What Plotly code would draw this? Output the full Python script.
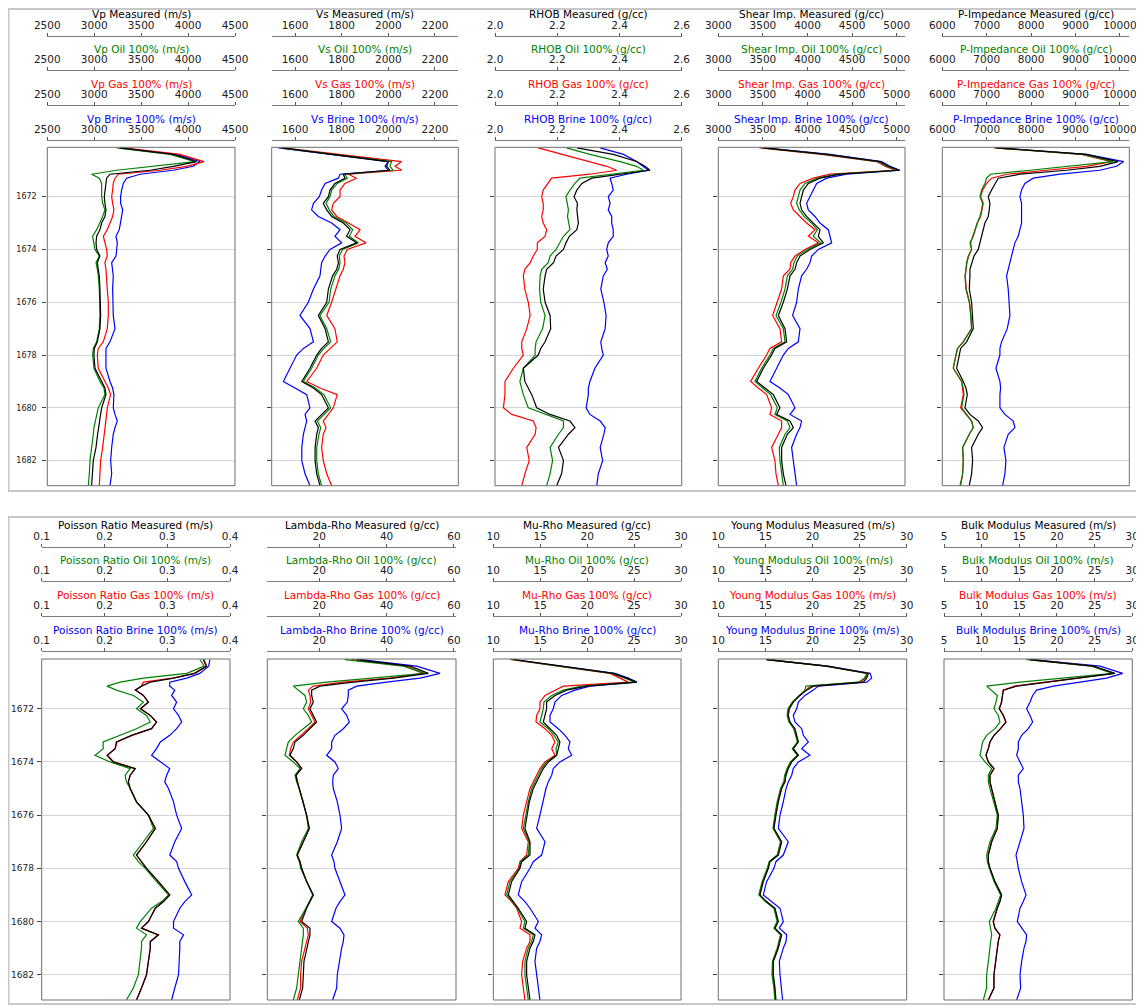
import plotly.graph_objects as go

# the page body has an 8 px margin, so the figure is drawn 8 px in from the window edge
PAGE_OFFSET = 8
W, H = 1144 - PAGE_OFFSET, 1005 - PAGE_OFFSET

# ---------------- data ----------------
DEPTH = [1670.15, 1670.4, 1670.67, 1670.85, 1671.0, 1671.15, 1671.3, 1671.5, 1671.75, 1672.0,
         1672.25, 1672.5, 1672.75, 1673.0, 1673.25, 1673.5, 1673.75, 1674.0, 1674.25, 1674.5,
         1674.75, 1675.0, 1675.5, 1676.0, 1676.5, 1677.0, 1677.5, 1677.75, 1678.0, 1678.5,
         1679.0, 1679.25, 1679.5, 1680.0, 1680.25, 1680.5, 1680.75, 1681.0, 1681.5, 1682.0,
         1682.5, 1682.95]
DEPTH_RANGE = [1682.95, 1670.13]
DEPTH_TICKS = [1672, 1674, 1676, 1678, 1680, 1682]

VP_MEASURED = [3274, 3843, 4091, 3843, 3594, 3168, 3132, 3125, 3114, 3107, 3114, 3125, 3114, 3079, 3061,
               3026, 3019, 3026, 3061, 3033, 3043, 3054, 3061, 3068, 3068, 3061, 3033, 3001, 2997, 3008,
               3079, 3114, 3125, 3079, 3068, 3054, 3047, 3036, 3019, 2990, 2983, 2972]
VP_OIL = [3239, 3807, 4074, 3594, 3239, 2972, 3054, 3079, 3079, 3079, 3090, 3114, 3090, 3061, 3026,
          2983, 2997, 3008, 3054, 3019, 3033, 3043, 3054, 3061, 3061, 3054, 3026, 2990, 2983, 2997,
          3061, 3104, 3114, 3043, 3026, 3008, 2997, 2990, 2972, 2955, 2948, 2937]
VP_GAS = [3310, 3914, 4169, 3985, 3701, 3257, 3221, 3203, 3196, 3186, 3196, 3210, 3196, 3168, 3139,
          3097, 3114, 3132, 3139, 3114, 3125, 3132, 3139, 3150, 3150, 3139, 3097, 3043, 3033, 3043,
          3114, 3150, 3175, 3139, 3132, 3125, 3118, 3104, 3090, 3068, 3061, 3054]
VP_BRINE = [3274, 3878, 4127, 4056, 3843, 3487, 3345, 3310, 3292, 3281, 3281, 3303, 3292, 3281, 3267,
            3232, 3246, 3239, 3232, 3186, 3196, 3203, 3196, 3203, 3203, 3221, 3168, 3125, 3125, 3125,
            3168, 3196, 3210, 3203, 3221, 3246, 3221, 3203, 3186, 3175, 3186, 3168]

VS_MEASURED = [1543, 1764, 2000, 1993, 2007, 1807, 1814, 1771, 1750, 1743, 1721, 1736, 1757, 1807, 1836,
               1821, 1864, 1793, 1781, 1786, 1779, 1761, 1743, 1736, 1700, 1729, 1743, 1714, 1693, 1664,
               1629, 1679, 1714, 1743, 1714, 1686, 1700, 1693, 1686, 1686, 1693, 1707]
VS_OIL = [1539, 1757, 2014, 2007, 2021, 1814, 1824, 1781, 1757, 1750, 1733, 1747, 1767, 1819, 1847,
          1833, 1871, 1804, 1790, 1793, 1787, 1771, 1753, 1746, 1707, 1736, 1753, 1724, 1700, 1671,
          1636, 1686, 1724, 1753, 1724, 1696, 1710, 1703, 1693, 1693, 1700, 1714]
VS_GAS = [1550, 1786, 2057, 2029, 2057, 1829, 1864, 1814, 1793, 1793, 1764, 1757, 1779, 1829, 1879,
          1857, 1904, 1824, 1810, 1814, 1807, 1793, 1776, 1757, 1736, 1771, 1781, 1750, 1721, 1693,
          1650, 1707, 1781, 1764, 1743, 1721, 1733, 1721, 1714, 1721, 1736, 1757]
VS_BRINE = [1529, 1757, 2000, 1986, 2000, 1793, 1786, 1729, 1714, 1704, 1679, 1671, 1700, 1757, 1793,
            1771, 1800, 1750, 1729, 1714, 1710, 1707, 1679, 1657, 1621, 1664, 1679, 1636, 1607, 1579,
            1550, 1600, 1650, 1664, 1643, 1650, 1643, 1636, 1629, 1629, 1643, 1664]

RHOB_MEASURED = [2.263, 2.380, 2.455, 2.482, 2.498, 2.402, 2.311, 2.279, 2.263, 2.254, 2.265, 2.263, 2.265, 2.268,
                 2.263, 2.239, 2.228, 2.220, 2.196, 2.188, 2.166, 2.161, 2.155, 2.161, 2.177, 2.179, 2.161, 2.147,
                 2.139, 2.091, 2.096, 2.107, 2.118, 2.134, 2.177, 2.241, 2.257, 2.236, 2.204, 2.220, 2.214, 2.198]
RHOB_OIL = [2.230, 2.305, 2.402, 2.455, 2.477, 2.380, 2.273, 2.257, 2.241, 2.228, 2.233, 2.236, 2.233, 2.236,
            2.241, 2.220, 2.209, 2.196, 2.177, 2.171, 2.150, 2.145, 2.143, 2.147, 2.161, 2.153, 2.132, 2.129,
            2.129, 2.091, 2.080, 2.086, 2.091, 2.107, 2.166, 2.220, 2.220, 2.204, 2.177, 2.185, 2.177, 2.166]
RHOB_GAS = [2.139, 2.220, 2.305, 2.359, 2.391, 2.305, 2.182, 2.171, 2.155, 2.150, 2.155, 2.155, 2.150, 2.155,
            2.166, 2.161, 2.136, 2.136, 2.123, 2.113, 2.096, 2.091, 2.096, 2.107, 2.113, 2.102, 2.086, 2.086,
            2.091, 2.059, 2.032, 2.032, 2.032, 2.027, 2.054, 2.123, 2.132, 2.129, 2.102, 2.110, 2.096, 2.086]
RHOB_BRINE = [2.338, 2.413, 2.455, 2.477, 2.493, 2.423, 2.370, 2.375, 2.380, 2.364, 2.370, 2.364, 2.375, 2.375,
              2.380, 2.380, 2.364, 2.359, 2.364, 2.354, 2.361, 2.348, 2.340, 2.350, 2.357, 2.354, 2.340, 2.343,
              2.348, 2.321, 2.305, 2.300, 2.300, 2.293, 2.305, 2.338, 2.354, 2.350, 2.338, 2.346, 2.332, 2.327]

SIMP_MEASURED = [3505, 4215, 4813, 4906, 5029, 4364, 4140, 4009, 3953, 3934, 3916, 3934, 3990, 4065, 4140,
                 4121, 4177, 4028, 3916, 3878, 3860, 3804, 3774, 3729, 3673, 3748, 3766, 3635, 3598, 3505,
                 3430, 3523, 3617, 3691, 3654, 3804, 3841, 3774, 3710, 3710, 3729, 3759]
SIMP_OIL = [3486, 4196, 4794, 4887, 5007, 4327, 4110, 3972, 3916, 3897, 3878, 3908, 3961, 4047, 4110,
            4065, 4147, 3998, 3886, 3848, 3833, 3774, 3748, 3703, 3647, 3729, 3748, 3617, 3579, 3486,
            3411, 3497, 3587, 3662, 3635, 3774, 3804, 3748, 3684, 3691, 3710, 3729]
SIMP_GAS = [3460, 4159, 4775, 4869, 4981, 4252, 4065, 3916, 3860, 3841, 3811, 3841, 3916, 3990, 4084,
            4009, 4121, 3972, 3860, 3811, 3804, 3729, 3710, 3662, 3609, 3691, 3710, 3579, 3542, 3448,
            3363, 3448, 3542, 3598, 3579, 3710, 3710, 3673, 3598, 3635, 3647, 3673]
SIMP_BRINE = [3523, 4252, 4831, 4925, 5037, 4439, 4215, 4103, 4065, 4028, 3990, 4009, 4084, 4140, 4233,
              4252, 4271, 4121, 4047, 4028, 3990, 3934, 3897, 3878, 3833, 3916, 3897, 3785, 3729, 3654,
              3579, 3691, 3785, 3860, 3804, 3934, 3916, 3878, 3822, 3841, 3860, 3878]

PIMP_MEASURED = [7223, 9248, 9960, 9548, 8798, 7748, 7260, 7185, 7110, 7035, 7073, 7058, 7035, 6960, 6923,
                 6885, 6863, 6810, 6713, 6660, 6623, 6623, 6608, 6660, 6683, 6698, 6548, 6413, 6383, 6323,
                 6473, 6533, 6563, 6510, 6623, 6810, 6908, 6810, 6660, 6683, 6660, 6608]
PIMP_OIL = [7185, 9173, 9848, 8873, 7973, 7088, 6998, 6960, 6885, 6848, 6908, 6885, 6848, 6788, 6735,
            6698, 6623, 6660, 6585, 6548, 6533, 6510, 6533, 6608, 6638, 6660, 6473, 6338, 6308, 6248,
            6435, 6473, 6488, 6435, 6548, 6660, 6698, 6608, 6458, 6473, 6458, 6398]
PIMP_GAS = [7163, 9135, 9810, 9248, 8348, 7448, 7110, 6998, 6908, 6863, 6923, 6893, 6863, 6788, 6735,
            6698, 6638, 6660, 6593, 6555, 6533, 6518, 6540, 6615, 6645, 6660, 6473, 6345, 6308, 6248,
            6435, 6458, 6473, 6413, 6533, 6660, 6698, 6608, 6458, 6473, 6458, 6413]
PIMP_BRINE = [7260, 9248, 10088, 9923, 9548, 8648, 8048, 7860, 7785, 7748, 7785, 7785, 7770, 7785, 7748,
              7710, 7635, 7598, 7560, 7523, 7485, 7448, 7485, 7508, 7523, 7463, 7335, 7298, 7298, 7208,
              7298, 7313, 7298, 7298, 7410, 7598, 7635, 7485, 7388, 7433, 7410, 7358]

PR_MEASURED = [0.358, 0.363, 0.344, 0.310, 0.273, 0.259, 0.249, 0.262, 0.270, 0.257, 0.273, 0.283, 0.275, 0.243,
               0.219, 0.217, 0.204, 0.214, 0.249, 0.241, 0.238, 0.241, 0.251, 0.270, 0.281, 0.267, 0.251, 0.259,
               0.267, 0.286, 0.304, 0.294, 0.281, 0.270, 0.259, 0.286, 0.273, 0.273, 0.270, 0.267, 0.259, 0.251]
PR_OIL = [0.352, 0.359, 0.331, 0.262, 0.225, 0.204, 0.219, 0.246, 0.262, 0.251, 0.267, 0.273, 0.251, 0.225,
          0.198, 0.198, 0.185, 0.209, 0.241, 0.233, 0.235, 0.241, 0.251, 0.270, 0.278, 0.262, 0.246, 0.254,
          0.265, 0.283, 0.302, 0.291, 0.275, 0.257, 0.251, 0.267, 0.259, 0.259, 0.257, 0.254, 0.246, 0.235]
PR_GAS = [0.357, 0.362, 0.343, 0.309, 0.262, 0.259, 0.250, 0.262, 0.270, 0.258, 0.273, 0.283, 0.275, 0.244,
          0.220, 0.217, 0.205, 0.215, 0.249, 0.241, 0.238, 0.241, 0.251, 0.270, 0.281, 0.267, 0.251, 0.259,
          0.267, 0.286, 0.304, 0.294, 0.281, 0.270, 0.259, 0.286, 0.273, 0.273, 0.270, 0.267, 0.259, 0.251]
PR_BRINE = [0.368, 0.366, 0.352, 0.331, 0.304, 0.304, 0.312, 0.307, 0.315, 0.310, 0.318, 0.323, 0.315, 0.304,
            0.289, 0.283, 0.275, 0.289, 0.304, 0.299, 0.296, 0.302, 0.310, 0.315, 0.323, 0.312, 0.304, 0.315,
            0.318, 0.328, 0.339, 0.328, 0.320, 0.310, 0.310, 0.326, 0.320, 0.320, 0.319, 0.318, 0.312, 0.307]

LR_MEASURED = [31.12, 46.95, 52.39, 41.99, 30.13, 20.23, 17.76, 17.76, 18.25, 17.26, 18.25, 19.24, 17.26, 15.29,
               12.81, 12.32, 11.33, 13.31, 14.79, 13.11, 13.50, 14.10, 15.29, 16.27, 17.07, 15.29, 13.50, 14.30,
               14.79, 16.27, 18.25, 17.26, 16.27, 14.79, 17.26, 17.26, 16.77, 16.27, 15.48, 15.29, 15.09, 14.10]
LR_OIL = [27.65, 44.96, 51.40, 35.07, 22.21, 12.32, 13.80, 15.78, 16.27, 15.29, 16.77, 17.76, 15.29, 12.81,
          10.83, 10.34, 9.84, 12.32, 14.30, 12.81, 13.31, 14.10, 15.09, 16.27, 16.77, 14.79, 13.31, 14.10,
          14.49, 16.27, 18.06, 17.07, 16.08, 13.80, 15.29, 15.29, 15.09, 14.79, 14.30, 13.80, 13.31, 12.32]
LR_GAS = [29.63, 45.95, 50.71, 41.01, 27.16, 18.25, 16.77, 17.26, 17.46, 16.77, 17.76, 18.75, 16.77, 14.49,
          12.32, 11.53, 11.13, 13.31, 14.79, 13.11, 13.50, 14.10, 15.29, 16.27, 17.07, 15.29, 13.50, 14.30,
          14.79, 16.27, 18.25, 17.26, 16.08, 14.30, 16.47, 16.77, 16.27, 15.78, 14.79, 14.49, 14.49, 13.50]
LR_BRINE = [32.11, 48.93, 55.85, 49.91, 40.02, 31.12, 28.64, 28.64, 28.35, 26.66, 28.15, 28.94, 27.16, 24.68,
            23.70, 23.70, 22.21, 24.68, 25.67, 24.19, 23.99, 24.19, 25.38, 26.17, 26.66, 25.38, 23.70, 24.39,
            24.68, 26.17, 27.65, 26.17, 24.98, 23.70, 26.17, 27.36, 27.16, 26.66, 25.97, 25.38, 25.18, 23.99]

MR_MEASURED = [12.13, 17.46, 22.79, 24.21, 25.28, 19.95, 17.82, 16.57, 15.68, 15.68, 15.51, 15.33, 16.04, 16.75,
               17.10, 16.93, 16.75, 15.86, 15.33, 14.97, 14.62, 14.26, 13.84, 13.62, 13.37, 13.91, 13.91, 13.02,
               12.84, 11.95, 11.60, 12.13, 12.66, 13.55, 13.37, 14.44, 14.26, 13.91, 13.55, 13.55, 13.73, 13.91]
MR_OIL = [11.95, 17.28, 22.61, 24.03, 25.10, 19.41, 17.46, 16.22, 15.40, 15.33, 15.15, 14.97, 15.86, 16.47,
          16.93, 16.68, 16.75, 15.68, 15.15, 14.80, 14.44, 14.09, 13.73, 13.48, 13.20, 13.84, 13.73, 12.91,
          12.77, 11.78, 11.42, 12.06, 12.56, 13.37, 13.20, 14.26, 14.09, 13.73, 13.37, 13.37, 13.55, 13.73]
MR_GAS = [11.78, 17.10, 22.43, 23.50, 24.39, 17.46, 16.57, 15.51, 14.97, 14.97, 14.62, 14.55, 15.51, 16.22,
          16.57, 16.22, 16.57, 15.51, 14.97, 14.62, 14.26, 13.91, 13.55, 13.20, 13.02, 13.73, 13.55, 12.84,
          12.66, 11.60, 11.24, 11.95, 12.49, 13.02, 12.84, 13.91, 13.91, 13.55, 13.13, 13.02, 13.20, 13.37]
MR_BRINE = [12.13, 17.64, 22.97, 24.39, 25.28, 20.30, 18.70, 17.28, 16.57, 16.39, 16.04, 16.04, 16.93, 17.64,
            18.17, 17.99, 18.35, 17.10, 16.39, 16.22, 15.86, 15.61, 15.33, 14.97, 14.62, 15.51, 15.15, 14.26,
            13.91, 13.02, 12.66, 13.37, 13.91, 14.80, 14.44, 15.15, 14.97, 14.62, 14.44, 14.62, 14.80, 14.97]

YM_MEASURED = [15.13, 21.50, 25.93, 25.75, 25.40, 20.09, 19.38, 18.67, 17.96, 17.54, 17.43, 17.61, 18.14, 18.32,
               18.50, 17.96, 18.50, 17.79, 17.43, 17.19, 17.08, 16.73, 16.37, 16.12, 15.91, 16.73, 16.37, 15.49,
               15.31, 14.78, 14.42, 15.13, 16.02, 16.37, 16.02, 16.73, 16.55, 16.37, 15.84, 15.84, 16.02, 16.12]
YM_OIL = [15.10, 21.40, 25.80, 25.50, 24.90, 19.30, 19.20, 18.55, 17.85, 17.40, 17.30, 17.50, 18.00, 18.20,
          18.40, 17.85, 18.40, 17.65, 17.30, 17.05, 16.95, 16.60, 16.25, 16.00, 15.80, 16.60, 16.25, 15.40,
          15.20, 14.65, 14.30, 15.00, 15.90, 16.25, 15.90, 16.60, 16.45, 16.25, 15.75, 15.70, 15.90, 16.00]
YM_GAS = [15.13, 21.48, 25.90, 25.60, 25.10, 19.80, 19.30, 18.62, 17.92, 17.50, 17.40, 17.58, 18.10, 18.28,
          18.46, 17.92, 18.46, 17.74, 17.38, 17.14, 17.03, 16.68, 16.32, 16.08, 15.87, 16.68, 16.32, 15.45,
          15.27, 14.73, 14.38, 15.08, 15.97, 16.32, 15.97, 16.68, 16.50, 16.32, 15.80, 15.80, 15.97, 16.08]
YM_BRINE = [15.31, 21.68, 26.11, 26.28, 25.75, 20.62, 20.09, 19.20, 18.50, 18.32, 17.96, 18.14, 18.85, 19.03,
            19.56, 18.85, 19.73, 18.50, 17.96, 17.79, 17.43, 17.19, 16.90, 16.55, 16.37, 17.43, 16.90, 16.12,
            15.91, 15.13, 14.78, 15.66, 16.55, 16.90, 16.48, 17.26, 17.19, 16.90, 16.48, 16.55, 16.73, 16.83]

BM_MEASURED = [16.42, 24.82, 27.70, 23.05, 18.63, 14.65, 12.88, 12.79, 12.65, 12.35, 12.88, 13.23, 12.52, 11.64,
               11.11, 10.89, 10.58, 10.89, 11.64, 11.11, 11.11, 11.33, 11.77, 12.21, 12.08, 11.33, 10.89, 10.89,
               11.11, 11.77, 12.65, 12.43, 12.08, 11.55, 11.77, 12.43, 12.21, 12.08, 11.90, 11.64, 11.64, 10.89]
BM_OIL = [15.97, 24.60, 27.39, 20.40, 15.09, 10.66, 11.33, 12.08, 11.90, 11.64, 12.21, 12.43, 11.77, 10.66,
          10.13, 10.00, 9.78, 10.44, 11.33, 10.89, 10.89, 11.11, 11.55, 12.08, 11.90, 11.11, 10.66, 10.75,
          11.02, 11.64, 12.52, 12.21, 11.90, 11.02, 11.19, 11.33, 11.19, 11.11, 10.89, 10.66, 10.66, 10.22]
BM_GAS = [16.35, 24.75, 27.55, 22.60, 18.20, 14.40, 12.85, 12.75, 12.62, 12.32, 12.85, 13.20, 12.50, 11.62,
          11.09, 10.87, 10.56, 10.87, 11.62, 11.09, 11.09, 11.31, 11.75, 12.19, 12.06, 11.31, 10.87, 10.87,
          11.09, 11.75, 12.63, 12.41, 12.06, 11.53, 11.75, 12.41, 12.19, 12.06, 11.88, 11.62, 11.62, 10.87]
BM_BRINE = [16.64, 25.71, 28.72, 26.59, 23.05, 19.51, 17.30, 16.77, 16.42, 15.97, 16.42, 16.77, 16.19, 15.31,
            14.87, 14.87, 14.65, 15.09, 15.53, 14.87, 14.87, 15.09, 15.31, 15.53, 15.62, 15.09, 14.56, 14.73,
            14.87, 15.31, 15.89, 15.53, 15.09, 14.73, 15.31, 15.97, 15.89, 15.62, 15.31, 15.09, 15.18, 14.65]

SERIES = ["Measured", "Oil 100%", "Gas 100%", "Brine 100%"]
COLORS = ["#000000", "#008000", "#ff0000", "#0000ff"]

# name, unit, axis range, tick values, tick format, [measured, oil, gas, brine]
TRACKS = [
    ("Vp", "(m/s)", [2500, 4500], [2500, 3000, 3500, 4000, 4500], "d", [VP_MEASURED, VP_OIL, VP_GAS, VP_BRINE]),
    ("Vs", "(m/s)", [1500, 2300], [1600, 1800, 2000, 2200], "d", [VS_MEASURED, VS_OIL, VS_GAS, VS_BRINE]),
    ("RHOB", "(g/cc)", [2.0, 2.6], [2.0, 2.2, 2.4, 2.6], ".1f", [RHOB_MEASURED, RHOB_OIL, RHOB_GAS, RHOB_BRINE]),
    ("Shear Imp.", "(g/cc)", [3000, 5093], [3000, 3500, 4000, 4500, 5000], "d", [SIMP_MEASURED, SIMP_OIL, SIMP_GAS, SIMP_BRINE]),
    ("P-Impedance", "(g/cc)", [6000, 10212], [6000, 7000, 8000, 9000, 10000], "d", [PIMP_MEASURED, PIMP_OIL, PIMP_GAS, PIMP_BRINE]),
    ("Poisson Ratio", "(m/s)", [0.1, 0.4], [0.1, 0.2, 0.3, 0.4], ".1f", [PR_MEASURED, PR_OIL, PR_GAS, PR_BRINE]),
    ("Lambda-Rho", "(g/cc)", [4.6, 60.6], [20, 40, 60], "d", [LR_MEASURED, LR_OIL, LR_GAS, LR_BRINE]),
    ("Mu-Rho", "(g/cc)", [10, 30], [10, 15, 20, 25, 30], "d", [MR_MEASURED, MR_OIL, MR_GAS, MR_BRINE]),
    ("Young Modulus", "(m/s)", [10, 30], [10, 15, 20, 25, 30], "d", [YM_MEASURED, YM_OIL, YM_GAS, YM_BRINE]),
    ("Bulk Modulus", "(m/s)", [5, 30], [5, 10, 15, 20, 25, 30], "d", [BM_MEASURED, BM_OIL, BM_GAS, BM_BRINE]),
]

# ---------------- layout geometry (window pixels) ----------------
TRACK_X = [
    [(47.3, 235.0), (271.7, 458.3), (495.0, 681.7), (718.3, 905.0), (942.3, 1129.3)],
    [(41.7, 230.0), (267.3, 456.0), (493.3, 681.0), (718.3, 906.7), (944.0, 1132.3)],
]
PLOT_Y = [(147.3, 485.7), (659.0, 1000.0)]
AXIS_LINE_Y = [[35.7, 70.3, 105.3, 140.0], [546.7, 581.0, 616.3, 651.0]]
TITLE_OFFSET = 21.5
PANEL_BOX = [(8.5, 9, 1140, 491), (8.5, 517, 1140, 1004)]
YTICK_SIZE = [8.0, 9.0]
YTICK_STANDOFF = [4, 1]

FONT = "DejaVu Sans, Liberation Sans, Arial, sans-serif"
FRAME = "#6e6e6e"
AXLINE = "#7a7a7a"
GRID = "#d6d6d6"
TEXT = "#222222"
FS = 10.5


def fx(v):
    return (v - PAGE_OFFSET) / W


def fy(v):
    return 1 - (v - PAGE_OFFSET) / H


fig = go.Figure()
layout = {}
annotations = []
shapes = []
# axis order inside a track: brine is the main axis (drawn first), measured drawn last (on top)
AXIS_ORDER = [3, 2, 1, 0]

for t, (name, unit, rng, tickvals, fmt, data) in enumerate(TRACKS):
    panel, col = divmod(t, 5)
    x0, x1 = TRACK_X[panel][col]
    y0, y1 = PLOT_Y[panel]
    dom_x = [fx(x0), fx(x1)]
    dom_y = [fy(y1), fy(y0)]
    yid = t + 1
    yref = "y" if yid == 1 else f"y{yid}"
    ykey = "yaxis" if yid == 1 else f"yaxis{yid}"
    base = 4 * t + 1
    main_ref = "x" if base == 1 else f"x{base}"

    layout[ykey] = dict(domain=dom_y, anchor=main_ref, range=DEPTH_RANGE, showline=False,
                        ticks="outside", ticklen=4, tickcolor="#444444",
                        tickvals=DEPTH_TICKS, showgrid=True, gridcolor=GRID, gridwidth=1, zeroline=False,
                        showticklabels=(col == 0), ticklabelstandoff=YTICK_STANDOFF[panel],
                        automargin=False, fixedrange=True,
                        tickfont=dict(family=FONT, size=YTICK_SIZE[panel], color=TEXT))

    for k, s in enumerate(AXIS_ORDER):
        xid = base + k
        xref = "x" if xid == 1 else f"x{xid}"
        xkey = "xaxis" if xid == 1 else f"xaxis{xid}"
        line_y = AXIS_LINE_Y[panel][s]
        ax = dict(anchor="free", position=fy(line_y), side="top",
                  domain=dom_x, range=rng, tickvals=tickvals, tickformat=fmt, ticks="outside", ticklen=3,
                  tickcolor="#555555", showline=True, linecolor=AXLINE, linewidth=1, showgrid=False,
                  zeroline=False, fixedrange=True, automargin=False,
                  tickfont=dict(family=FONT, size=FS, color=TEXT))
        if k > 0:
            ax["overlaying"] = main_ref
        layout[xkey] = ax
        annotations.append(dict(text=f"{name} {SERIES[s]} {unit}", xref="paper", yref="paper",
                                x=fx((x0 + x1) / 2), y=fy(line_y - TITLE_OFFSET), xanchor="center",
                                yanchor="middle", showarrow=False,
                                font=dict(family=FONT, size=FS, color=COLORS[s])))
        fig.add_trace(go.Scatter(x=data[s], y=DEPTH, xaxis=xref, yaxis=yref, mode="lines",
                                 line=dict(color=COLORS[s], width=1.2),
                                 name=f"{name} {SERIES[s]}", showlegend=False))

    # frame around the track's plotting area
    shapes.append(dict(type="rect", xref=f"{main_ref} domain", yref=f"{yref} domain",
                       x0=0, x1=1, y0=0, y1=1, line=dict(color=FRAME, width=1),
                       fillcolor="rgba(0,0,0,0)", layer="above"))

for (bx0, by0, bx1, by1) in PANEL_BOX:
    shapes.append(dict(type="rect", xref="paper", yref="paper", x0=fx(bx0), x1=fx(bx1),
                       y0=fy(by1), y1=fy(by0), line=dict(color="#c8c8c8", width=2),
                       fillcolor="rgba(0,0,0,0)", layer="below"))

layout.update(dict(width=W, height=H, margin=dict(l=0, r=0, t=0, b=0, pad=0, autoexpand=False),
                   paper_bgcolor="white", plot_bgcolor="white", showlegend=False,
                   font=dict(family=FONT, size=FS, color=TEXT), shapes=shapes,
                   annotations=annotations, hovermode=False))
fig.update_layout(**layout)
fig.write_html("out.html")
